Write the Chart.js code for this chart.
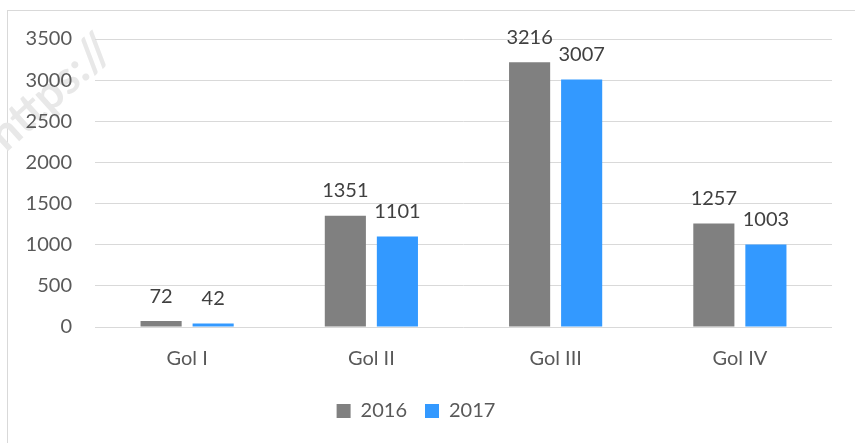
<!DOCTYPE html>
<html>
<head>
<meta charset="utf-8">
<title>Gol 2016 - 2017</title>
<script src="https://cdn.jsdelivr.net/npm/chart.js@4.4.0/dist/chart.umd.min.js"></script>
<style>
    html, body { margin: 0; padding: 0; background: #fff; }
    #wrap { width: 855px; height: 443px; }
</style>
</head>
<body>
<div id="wrap"><canvas id="golChart" width="855" height="443"></canvas></div>
<script>
const categories = ['Gol I', 'Gol II', 'Gol III', 'Gol IV'];
const values2016 = [72, 1351, 3216, 1257];
const values2017 = [42, 1101, 3007, 1003];
const seriesNames = ['2016', '2017'];

const FONT = 'Lato, "Open Sans", sans-serif';

// border of the chart box and the faint watermark behind it
const frameAndMark = {
    id: 'frameAndMark',
    beforeDraw(chart) {
        const ctx = chart.ctx;
        ctx.save();
        ctx.fillStyle = '#fff';
        ctx.fillRect(0, 0, chart.width, chart.height);
        ctx.strokeStyle = '#d9d9d9';
        ctx.lineWidth = 1;
        ctx.strokeRect(7.5, 10.5, chart.width + 20, chart.height + 20);

        ctx.translate(-4, 142);
        ctx.rotate(-42 * Math.PI / 180);
        ctx.font = 'bold 46px ' + FONT;
        ctx.fillStyle = '#e8e8e8';
        ctx.fillText('https://', 0, 0);
        ctx.restore();
    }
};

// numbers above the bars
const barValues = {
    id: 'barValues',
    afterDatasetsDraw(chart) {
        const ctx = chart.ctx;
        ctx.save();
        ctx.font = '20px ' + FONT;
        ctx.fillStyle = '#404040';
        ctx.textAlign = 'center';
        ctx.textBaseline = 'middle';
        chart.data.datasets.forEach((ds, i) => {
            chart.getDatasetMeta(i).data.forEach((bar, j) => {
                ctx.fillText(String(ds.data[j]), bar.x, bar.y - 25);
            });
        });
        ctx.restore();
    }
};

const ctx = document.getElementById('golChart').getContext('2d');
const chart = new Chart(ctx, {
    type: 'bar',
    data: {
        labels: categories,
        datasets: [
            {
                label: seriesNames[0],
                data: values2016,
                backgroundColor: '#808080',
                categoryPercentage: 0.565,
                barPercentage: 0.79
            },
            {
                label: seriesNames[1],
                data: values2017,
                backgroundColor: '#3399ff',
                categoryPercentage: 0.565,
                barPercentage: 0.79
            }
        ]
    },
    options: {
        responsive: false,
        animation: false,
        layout: {
            padding: { left: 0, right: 23, top: 39, bottom: 12 }
        },
        plugins: {
            legend: {
                position: 'bottom',
                labels: {
                    boxWidth: 14,
                    boxHeight: 14,
                    padding: 18,
                    color: '#595959',
                    font: { family: FONT, size: 20 }
                }
            },
            tooltip: { enabled: false }
        },
        scales: {
            x: {
                grid: { display: false },
                border: { display: false },
                ticks: {
                    color: '#595959',
                    padding: 12,
                    font: { family: FONT, size: 20 }
                },
                afterFit(scale) { scale.height = 56; }
            },
            y: {
                min: 0,
                max: 3500,
                grid: { color: '#d9d9d9', drawTicks: false },
                border: { display: false },
                ticks: {
                    stepSize: 500,
                    color: '#595959',
                    padding: 23,
                    font: { family: FONT, size: 20 },
                    callback: (v) => String(v)
                },
                afterFit(scale) { scale.width = 95; }
            }
        }
    },
    plugins: [frameAndMark, barValues]
});
</script>
</body>
</html>
